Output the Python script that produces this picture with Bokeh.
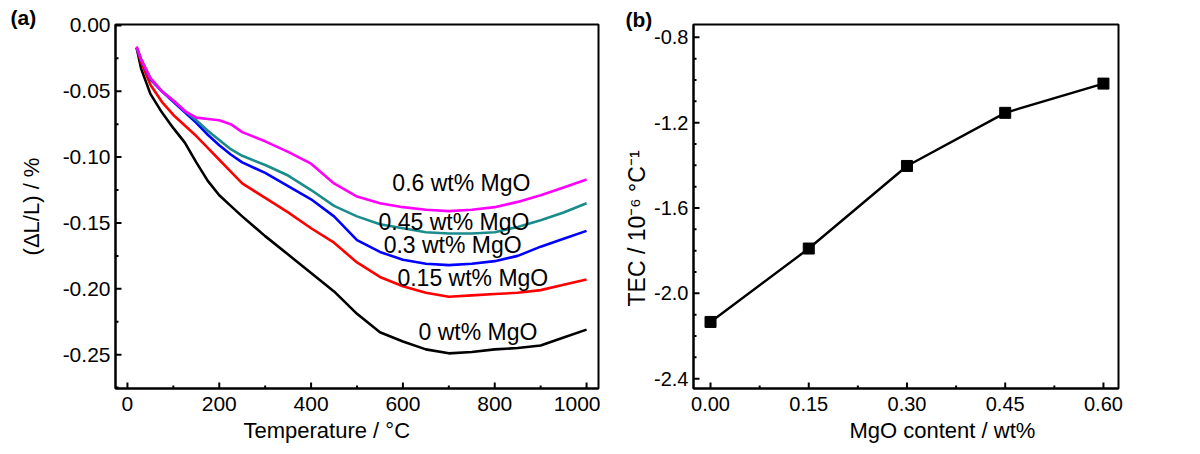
import math
from bokeh.plotting import figure
from bokeh.layouts import row
from bokeh.models import FixedTicker, PrintfTickFormatter, Title
from bokeh.embed import file_html
from bokeh.resources import INLINE
from bokeh.core.properties import value

# ---------------- data: panel (a) ----------------
temperature = [20, 30, 50, 75, 100, 125, 150, 175, 200, 225, 250, 300, 350, 400,
               450, 500, 550, 600, 650, 700, 750, 800, 850, 900, 950, 1000]
dl_0wt = [-0.017, -0.033, -0.052, -0.066, -0.078, -0.089, -0.104, -0.118, -0.129, -0.137,
          -0.145, -0.160, -0.174, -0.188, -0.202, -0.219, -0.233, -0.240, -0.246, -0.249,
          -0.248, -0.246, -0.245, -0.243, -0.237, -0.231]
dl_015wt = [-0.017, -0.028, -0.045, -0.058, -0.068, -0.076, -0.084, -0.093, -0.102, -0.111,
            -0.120, -0.131, -0.142, -0.154, -0.165, -0.180, -0.191, -0.198, -0.203, -0.206,
            -0.205, -0.204, -0.203, -0.201, -0.197, -0.193]
dl_03wt = [-0.017, -0.026, -0.041, -0.050, -0.058, -0.066, -0.074, -0.083, -0.091, -0.098,
           -0.104, -0.112, -0.122, -0.132, -0.145, -0.163, -0.172, -0.178, -0.181, -0.182,
           -0.181, -0.179, -0.175, -0.168, -0.162, -0.156]
dl_045wt = [-0.017, -0.026, -0.040, -0.050, -0.057, -0.065, -0.072, -0.080, -0.087, -0.094,
            -0.099, -0.106, -0.114, -0.125, -0.137, -0.145, -0.151, -0.154, -0.157, -0.158,
            -0.158, -0.157, -0.153, -0.148, -0.142, -0.135]
dl_06wt = [-0.016, -0.026, -0.040, -0.050, -0.057, -0.065, -0.070, -0.071, -0.072, -0.075,
           -0.081, -0.088, -0.096, -0.105, -0.120, -0.130, -0.135, -0.138, -0.140, -0.141,
           -0.140, -0.138, -0.134, -0.129, -0.123, -0.117]
series_labels = ["0 wt% MgO", "0.15 wt% MgO", "0.3 wt% MgO", "0.45 wt% MgO", "0.6 wt% MgO"]
label_temperature = [634, 588, 558, 547, 577]
label_dl = [-0.233, -0.192, -0.167, -0.149, -0.120]
x_ticks_a = [0, 200, 400, 600, 800, 1000]
x_minor_a = [100, 300, 500, 700, 900]
y_ticks_a = [0.0, -0.05, -0.10, -0.15, -0.20, -0.25]
y_minor_a = [-0.025, -0.075, -0.125, -0.175, -0.225, -0.275]

# ---------------- data: panel (b) ----------------
mgo_content = [0.00, 0.15, 0.30, 0.45, 0.60]
tec = [-2.134, -1.790, -1.403, -1.154, -1.017]
x_ticks_b = [0.00, 0.15, 0.30, 0.45, 0.60]
x_minor_b = [0.075, 0.225, 0.375, 0.525]
y_ticks_b = [-0.8, -1.2, -1.6, -2.0, -2.4]
y_minor_b = [-0.9, -1.0, -1.1, -1.3, -1.4, -1.5, -1.7, -1.8, -1.9, -2.1, -2.2, -2.3]

FONT = "Liberation Sans"
colors = ["#000000", "#ff0000", "#0000ff", "#1a8c8c", "#ff00ff"]


def make_panel(width, height, left, right, top, bottom, xr, yr, tick_size):
    p = figure(width=width, height=height, x_range=xr, y_range=yr,
               output_backend="svg", toolbar_location=None, title_location=None,
               min_border_left=left, min_border_right=right, min_border_top=top,
               min_border_bottom=bottom)
    p.grid.visible = False
    p.outline_line_color = "black"
    p.outline_line_width = 2
    p.background_fill_color = "white"
    p.border_fill_color = "white"
    for ax in (p.xaxis[0], p.yaxis[0]):
        ax.axis_line_width = 2
        ax.axis_line_color = "black"
        ax.major_tick_in = 0
        ax.major_tick_out = 0
        ax.minor_tick_in = 0
        ax.minor_tick_out = 0
        ax.major_label_text_font = FONT
        ax.major_label_text_font_size = tick_size
        ax.major_label_text_color = "black"
    p.xaxis.major_label_standoff = 8
    p.yaxis.major_label_standoff = 5
    return p


def inward_ticks(p, xr, yr, fw, fh, xmaj, xmin, ymaj, ymin):
    dx = (xr[1] - xr[0]) / fw
    dy = (yr[1] - yr[0]) / fh
    for xs, ln in ((xmaj, 6), (xmin, 3)):
        p.segment(x0=xs, y0=[yr[0]] * len(xs), x1=xs, y1=[yr[0] + ln * dy] * len(xs),
                  line_color="black", line_width=2)
    for ys, ln in ((ymaj, 6), (ymin, 3)):
        p.segment(x0=[xr[0]] * len(ys), y0=ys, x1=[xr[0] + ln * dx] * len(ys), y1=ys,
                  line_color="black", line_width=2)


def title(text, size, align, offset, standoff, bold=False):
    return Title(text=text, align=align, offset=offset, standoff=standoff,
                 text_font=FONT, text_font_size=size, text_color="black",
                 text_font_style="bold" if bold else "normal")


# ---------------- panel (a) ----------------
A_W, A_H = 600, 446
A_L, A_R, A_T, A_B = 115, 2, 22, 58
xra = (-26, 1026)
yra = (-0.2757, 0.0007)
pa = make_panel(A_W, A_H, A_L, A_R, A_T, A_B, xra, yra, "21px")
pa.xaxis.ticker = FixedTicker(ticks=x_ticks_a)
pa.yaxis.ticker = FixedTicker(ticks=y_ticks_a)
pa.xaxis.formatter = PrintfTickFormatter(format="%d")
pa.yaxis.formatter = PrintfTickFormatter(format="%.2f")
inward_ticks(pa, xra, yra, A_W - A_L - A_R, A_H - A_T - A_B,
             x_ticks_a, x_minor_a, y_ticks_a, y_minor_a)

for ys, c in zip([dl_0wt, dl_015wt, dl_03wt, dl_045wt, dl_06wt], colors):
    pa.line(temperature, ys, line_color=c, line_width=2.6)

pa.text(x=label_temperature, y=label_dl, text=series_labels, text_font=value(FONT),
        text_font_size="23px", text_baseline="middle", text_align="left", text_color="black")

pa.add_layout(title("Temperature / °C", "22px", "left", 128, 4), "below")
pa.add_layout(title("(ΔL/L) / %", "22px", "center", 0, 32), "left")
pa.add_layout(title("(a)", "21px", "left", -105, -8, bold=True), "above")

# ---------------- panel (b) ----------------
B_W, B_H = 592, 446
B_L, B_R, B_T, B_B = 93, 74, 24, 58
xrb = (-0.026, 0.623)
yrb = (-2.446, -0.74)
pb = make_panel(B_W, B_H, B_L, B_R, B_T, B_B, xrb, yrb, "20px")
pb.xaxis.ticker = FixedTicker(ticks=x_ticks_b)
pb.yaxis.ticker = FixedTicker(ticks=y_ticks_b)
pb.xaxis.formatter = PrintfTickFormatter(format="%.2f")
pb.yaxis.formatter = PrintfTickFormatter(format="%.1f")
inward_ticks(pb, xrb, yrb, B_W - B_L - B_R, B_H - B_T - B_B,
             x_ticks_b, x_minor_b, y_ticks_b, y_minor_b)

pb.line(mgo_content, tec, line_color="black", line_width=2.4)
pb.scatter(mgo_content, tec, marker="square", size=11, fill_color="black", line_color="black")

pb.add_layout(title("MgO content / wt%", "22px", "left", 156, 4), "below")
pb.add_layout(title("TEC / 10⁻⁶ °C⁻¹", "23px", "left", 82, 4), "left")
pb.add_layout(title("(b)", "21px", "left", -68, -12, bold=True), "above")

layout = row(pa, pb)
open("out.html", "w").write(file_html(layout, INLINE))
